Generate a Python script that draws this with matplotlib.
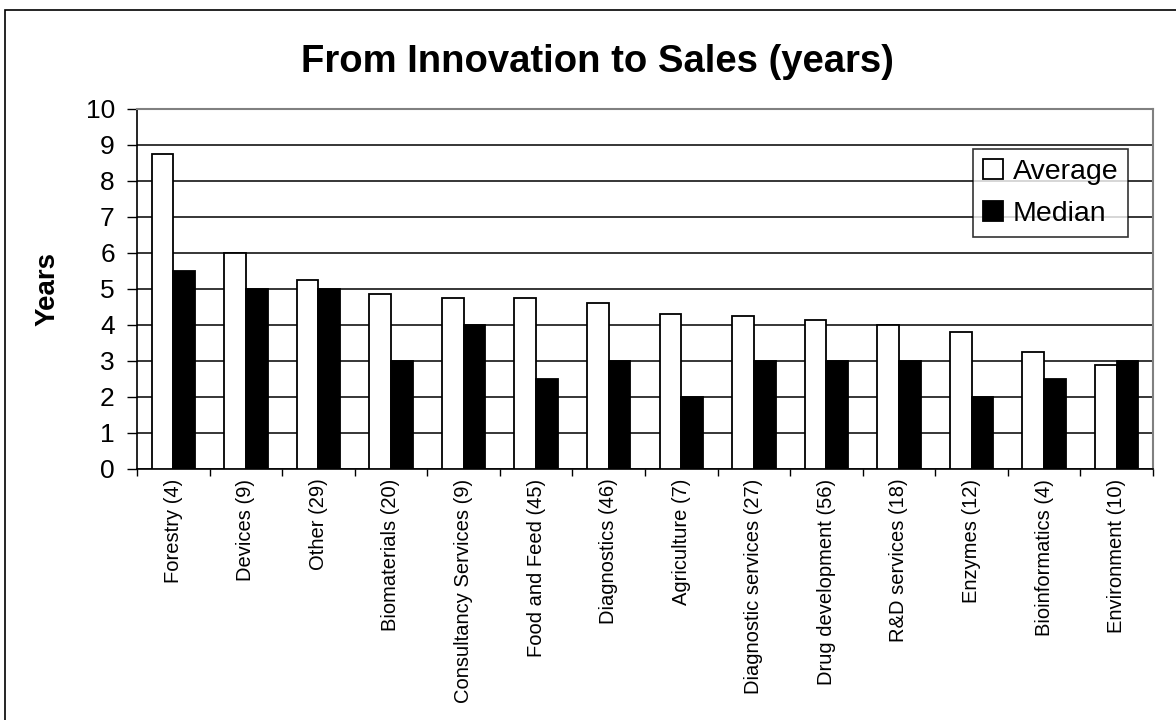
import matplotlib
matplotlib.use("Agg")
import matplotlib.pyplot as plt
import numpy as np
from matplotlib.patches import Rectangle

plt.rcParams['font.family'] = ['Liberation Sans', 'DejaVu Sans']

categories = ["Forestry (4)", "Devices (9)", "Other (29)", "Biomaterials (20)",
              "Consultancy Services (9)", "Food and Feed (45)", "Diagnostics (46)",
              "Agriculture (7)", "Diagnostic services (27)", "Drug development (56)",
              "R&D services (18)", "Enzymes (12)", "Bioinformatics (4)", "Environment (10)"]
average = [8.75, 6.0, 5.25, 4.85, 4.75, 4.75, 4.6, 4.3, 4.24, 4.14, 4.0, 3.8, 3.25, 2.9]
median = [5.5, 5.0, 5.0, 3.0, 4.0, 2.5, 3.0, 2.0, 3.0, 3.0, 3.0, 2.0, 2.5, 3.0]
y_ticks = list(range(0, 11))

W, H = 1176, 720
fig = plt.figure(figsize=(W / 100, H / 100), dpi=100)
fig.patch.set_facecolor('white')

# outer chart border (only left/top visible; extends beyond image)
fig.add_artist(Rectangle((5 / W, -0.1), 1.2, (H - 10) / H + 0.1, transform=fig.transFigure,
                         fill=False, edgecolor='black', linewidth=1.2))

left, right, top, bottom = 137, 1153, 109, 469
ax = fig.add_axes([left / W, (H - bottom) / H, (right - left) / W, (bottom - top) / H])

x = np.arange(len(categories))
bw = 0.3
ax.bar(x - bw / 2, average, bw, color='white', edgecolor='black', linewidth=1.3,
       label='Average', zorder=3)
ax.bar(x + bw / 2, median, bw, color='black', edgecolor='black', linewidth=1.3,
       label='Median', zorder=3)

ax.set_xlim(-0.5, len(categories) - 0.5)
ax.set_ylim(0, 10)
ax.set_yticks(y_ticks)
ax.set_yticklabels([str(t) for t in y_ticks], fontsize=19)
ax.yaxis.grid(True, color='black', linewidth=1.1, zorder=0)
ax.set_axisbelow(True)

ax.set_xticks(x)
ax.set_xticklabels(categories, rotation=90, fontsize=14.5)
ax.tick_params(axis='x', length=0, pad=7)
ax.set_xticks(np.arange(-0.5, len(categories)), minor=True)
ax.tick_params(axis='x', which='minor', length=5, width=1, color='black', direction='out')
ax.tick_params(axis='y', length=7, width=1, pad=9, direction='out')

for s in ['left', 'bottom']:
    ax.spines[s].set_color('black')
    ax.spines[s].set_linewidth(1.2)
for s in ['top', 'right']:
    ax.spines[s].set_color('#808080')
    ax.spines[s].set_linewidth(1.5)

ax.set_ylabel('Years', fontsize=20, fontweight='bold')
ax.yaxis.set_label_coords(-(left - 61) / (right - left), 0.5)

fig.text(597 / W, (H - 72) / H, 'From Innovation to Sales (years)', fontsize=27.5,
         fontweight='bold', ha='center', va='baseline')

leg = ax.legend(loc='upper left', bbox_to_anchor=((973 - left) / (right - left), 1 - (149 - top) / (bottom - top)),
                fontsize=20.5, frameon=True, fancybox=False, edgecolor='black',
                handlelength=0.7, handleheight=0.7, handletextpad=0.35, borderpad=0.35,
                labelspacing=0.55, borderaxespad=0)
leg.get_frame().set_linewidth(1.2)

fig.savefig('out.png', dpi=100, facecolor='white')
